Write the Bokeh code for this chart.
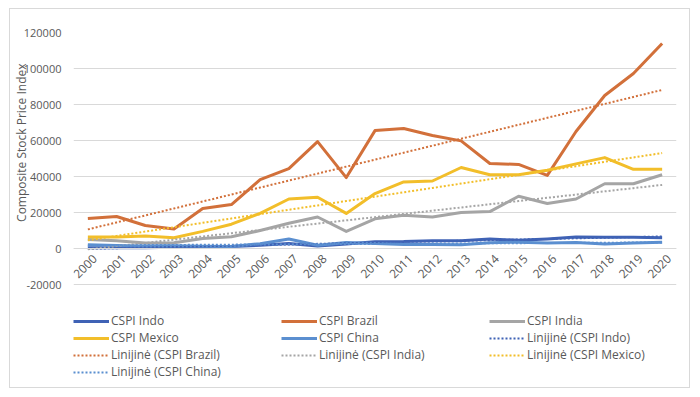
import math
import numpy as np
from bokeh.plotting import figure
from bokeh.models import (Legend, LegendItem, NumeralTickFormatter, Range1d, FixedTicker, LinearAxis, Title)
from bokeh.embed import file_html
from bokeh.resources import INLINE

years = [str(y) for y in range(2000, 2021)]
cspi_indo = [420, 390, 430, 690, 1000, 1160, 1800, 2750, 1360, 2530, 3700, 3820, 4320, 4270, 5230, 4590, 5300, 6360, 6190, 6300, 5980]
cspi_brazil = [16600, 17800, 12800, 10800, 22200, 24400, 38300, 44400, 59400, 39400, 65500, 66700, 62800, 59800, 47200, 46700, 40600, 65000, 85000, 97200, 113900]
cspi_india = [5000, 4300, 3000, 3200, 5500, 6500, 10000, 14000, 17500, 9500, 16500, 18500, 17500, 20000, 20500, 29000, 25000, 27500, 36000, 36000, 41000]
cspi_mexico = [6400, 6400, 6900, 6000, 9500, 13500, 19500, 27500, 28500, 19500, 30500, 37000, 37500, 45000, 41000, 41000, 43500, 47000, 50500, 44000, 44000]
cspi_china = [2070, 1650, 1360, 1500, 1270, 1160, 2680, 5260, 1820, 3280, 2810, 2200, 2270, 2120, 3240, 3540, 3100, 3310, 2490, 3050, 3470]
y_ticks = [-20000, 0, 20000, 40000, 60000, 80000, 100000, 120000]

series = [
    ("CSPI Indo", cspi_indo, "#3F62B5"),
    ("CSPI Brazil", cspi_brazil, "#D2703A"),
    ("CSPI India", cspi_india, "#A5A5A5"),
    ("CSPI Mexico", cspi_mexico, "#F2BE2A"),
    ("CSPI China", cspi_china, "#5B8FD0"),
]

FONT = "Open Sans"
TXT = "#595959"
GRID = "#D9D9D9"

xs = list(range(len(years)))
n = len(years)

# plot frame: value axis spans 252 px; frame continues below it to host the legend
W, H = 681, 380
TOP, LEFT, RIGHT = 23, 63, 15
AXIS_PX = 252
BOTTOM_PAD = 2
extra_px = H - TOP - AXIS_PX - BOTTOM_PAD
y_lo = y_ticks[0] - extra_px * (y_ticks[-1] - y_ticks[0]) / AXIS_PX

p = figure(width=W, height=H, x_range=Range1d(-0.5, n - 0.5), y_range=Range1d(y_lo, y_ticks[-1]),
           output_backend="svg", toolbar_location=None, x_axis_location=None,
           min_border_left=LEFT, min_border_right=RIGHT, min_border_top=TOP, min_border_bottom=BOTTOM_PAD,
           margin=(8, 0, 0, 9),
           styles={"border": "1px solid #D9D9D9", "box-sizing": "border-box"})
p.outline_line_color = None
p.xgrid.grid_line_color = None
p.ygrid.grid_line_color = GRID
p.ygrid.ticker = FixedTicker(ticks=y_ticks)

p.yaxis.ticker = FixedTicker(ticks=y_ticks)
p.yaxis.formatter = NumeralTickFormatter(format="0")
p.yaxis.axis_line_color = None
p.yaxis.major_tick_line_color = None
p.yaxis.minor_tick_line_color = None
p.yaxis.major_label_text_font = FONT
p.yaxis.major_label_text_font_size = "11px"
p.yaxis.major_label_text_color = TXT
p.yaxis.major_label_standoff = 6

ylabel = Title(text="Composite Stock Price Index", align="right", offset=31, standoff=-18,
               text_font=FONT, text_font_size="12px", text_font_style="normal", text_color=TXT)
p.add_layout(ylabel, "left")

p.extra_x_ranges = {"lab": Range1d(-0.5 - 0.24, n - 0.5 - 0.24)}
xaxis = LinearAxis(x_range_name="lab", fixed_location=0,
                   ticker=FixedTicker(ticks=xs),
                   major_label_overrides={i: y for i, y in enumerate(years)})
xaxis.axis_line_color = GRID
xaxis.major_tick_line_color = None
xaxis.minor_tick_line_color = None
xaxis.major_label_orientation = math.pi / 4
xaxis.major_label_text_font = FONT
xaxis.major_label_text_font_size = "12px"
xaxis.major_label_text_color = TXT
xaxis.major_label_standoff = 2
p.add_layout(xaxis, "below")

main_items = []
trend_items = []
for name, vals, color in series:
    r = p.line(xs, vals, line_color=color, line_width=3, line_join="round")
    main_items.append(LegendItem(label=name, renderers=[r]))
xa = np.array(xs, dtype=float)
for name, vals, color in series:
    k, b = np.polyfit(xa, np.array(vals, dtype=float), 1)
    trend = list(k * xa + b)
    r = p.line(xs, trend, line_color=color, line_width=2, line_dash="2 2")
    trend_items.append(LegendItem(label=f"Linijinė ({name})", renderers=[r]))

legend = Legend(items=main_items + trend_items, orientation="horizontal", ncols=3,
                location=(0, 7), glyph_width=36, glyph_height=14, label_height=14,
                label_width=170, label_standoff=2, spacing=0, padding=0, margin=0,
                border_line_color=None, background_fill_color=None,
                label_text_font=FONT, label_text_font_size="12px", label_text_color=TXT)
p.add_layout(legend, "center")

open("out.html", "w").write(file_html(p, INLINE))
